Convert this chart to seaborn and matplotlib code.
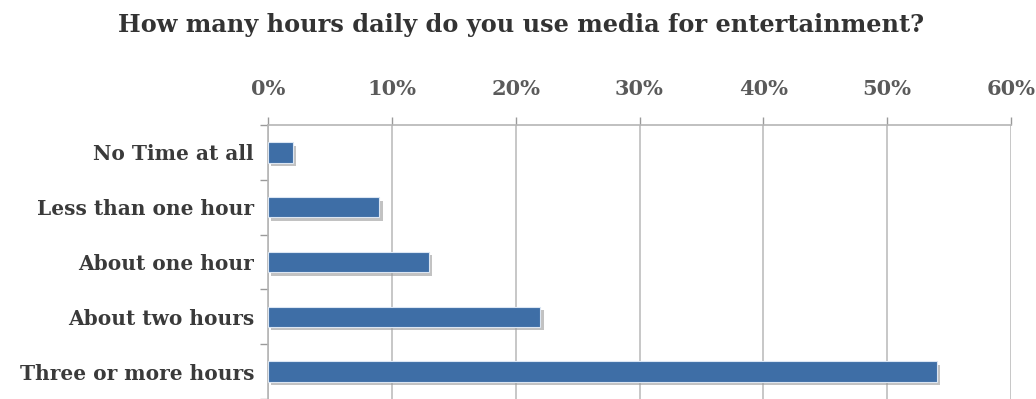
import matplotlib
matplotlib.use("Agg")
import matplotlib.pyplot as plt
import matplotlib.patheffects as pe
from matplotlib.ticker import FixedLocator, PercentFormatter
import seaborn as sns
import pandas as pd

categories = ["No Time at all", "Less than one hour", "About one hour",
              "About two hours", "Three or more hours"]
shares = [2, 9, 13, 22, 54]
x_ticks = [0, 10, 20, 30, 40, 50, 60]

df = pd.DataFrame({"answer": categories, "share": shares})

sns.set_theme(style="white")
plt.rcParams["font.family"] = ["DejaVu Serif"]

fig = plt.figure(figsize=(10.36, 3.99), dpi=100)
ax = fig.add_axes([268 / 1036, 0.0, (1011 - 268) / 1036, 274 / 399])

sns.barplot(data=df, x="share", y="answer", orient="h", color="#3E6EA6",
            width=0.37, saturation=1, ax=ax, zorder=3)

for bar in ax.patches:
    bar.set_path_effects([
        pe.SimplePatchShadow(offset=(2.5, -2.5), shadow_rgbFace="#9a9a9a", alpha=0.6),
        pe.Normal(),
    ])
    bar.set_edgecolor("#dbe6f3")
    bar.set_linewidth(0.8)

ax.set_xlim(0, 60)
ax.set_ylim(len(categories) - 0.5, -0.5)
ax.xaxis.set_major_locator(FixedLocator(x_ticks))
ax.xaxis.set_major_formatter(PercentFormatter(decimals=0))
ax.xaxis.tick_top()
ax.tick_params(axis="x", which="major", top=True, bottom=False, length=6,
               width=1, color="#9a9a9a", pad=13, labelsize=15,
               labelcolor="#5a5a5a")
ax.grid(axis="x", color="#bdbdbd", linewidth=1.2, zorder=0)

# category ticks sit on the boundaries between bars
ax.yaxis.set_minor_locator(FixedLocator([i - 0.5 for i in range(len(categories) + 1)]))
ax.tick_params(axis="y", which="major", length=0, pad=10, labelsize=14.5,
               labelcolor="#3a3a3a")
ax.tick_params(axis="y", which="minor", left=True, length=6, width=1,
               color="#9a9a9a")
for lbl in ax.get_yticklabels() + ax.get_xticklabels():
    lbl.set_fontweight("bold")

for side in ("right", "bottom"):
    ax.spines[side].set_visible(False)
for side in ("top", "left"):
    ax.spines[side].set_color("#b5b5b5")
    ax.spines[side].set_linewidth(1.2)

ax.set_xlabel("")
ax.set_ylabel("")

fig.text(521 / 1036, 1 - 25 / 399,
         "How many hours daily do you use media for entertainment?",
         ha="center", va="center", fontsize=17.3, fontweight="bold",
         color="#333333")

fig.savefig("out.png", dpi=100)
